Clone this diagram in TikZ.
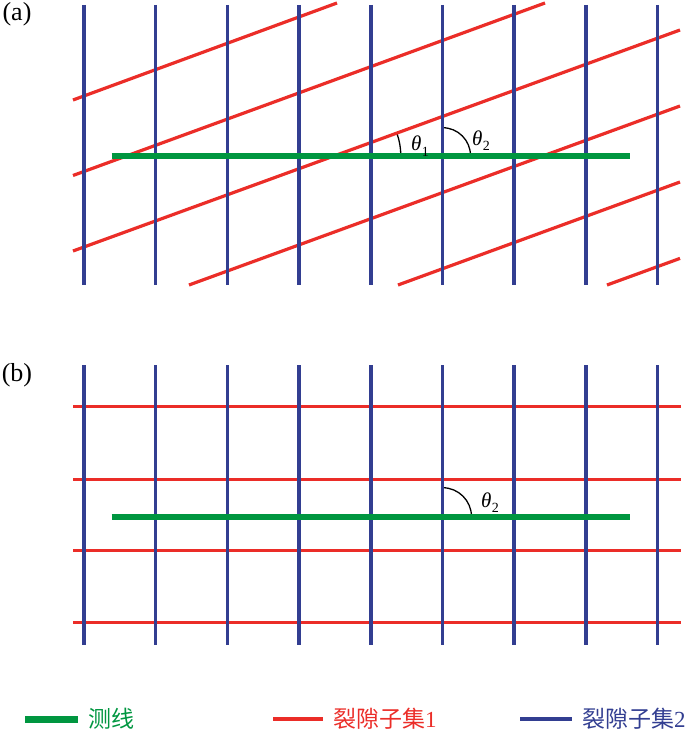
\documentclass[tikz,border=0pt]{standalone}
\usepackage{fontspec}
\setmainfont{Liberation Serif}
\newfontfamily\cjk{Noto Sans CJK SC}
\definecolor{bblue}{RGB}{50,62,145}
\definecolor{rred}{RGB}{235,45,40}
\definecolor{ggreen}{RGB}{0,150,64}
\newcommand\thsub[1]{\textit{θ}\kern0.3pt\raisebox{-0.28em}{\fontsize{14}{14}\selectfont #1}}
\begin{document}
\begin{tikzpicture}[x=1pt,y=-1pt,
  fblue/.style={draw=bblue,line width=3.5pt},
  fred/.style={draw=rred,line width=3.2pt},
  sline/.style={draw=ggreen,line width=6pt},
  anglearc/.style={draw=black,line width=1.3pt},
  panellabel/.style={font=\fontsize{26}{28}\selectfont,inner sep=0pt},
  thlabel/.style={font=\fontsize{21}{22}\selectfont,inner sep=0pt,anchor=base west},
  legtext/.style={font=\fontsize{23}{25}\selectfont,inner sep=0pt,anchor=west}]
\useasboundingbox (0,0) rectangle (700,733);
% ---------- panel (a) ----------
\node[panellabel] (la) at (17,14) {(a)};
\coordinate (c1) at (334.8,155.7);
\coordinate (c2) at (442.5,155.7);
\draw[anglearc] (c1) ++(0:66) arc[start angle=0,end angle=-20,radius=66];
\draw[anglearc] (c2) ++(-90:28) arc[start angle=-90,end angle=0,radius=28];
\draw[fred] (73,100) -- (337,3);
\draw[fred] (73,175.5) -- (545,3);
\draw[fred] (73,251) -- (680,30);
\draw[fred] (189,285) -- (680,106);
\draw[fred] (398,285) -- (680,182);
\draw[fred] (607,285) -- (680,258.4);
\foreach \i in {0,...,8}{
  \draw[fblue] ({84+71.7*\i},5) -- ({84+71.7*\i},285);
}
\coordinate (ga1) at (111.7,155.7);
\coordinate (ga2) at (630,155.7);
\draw[sline] (ga1) -- (ga2);
\node[thlabel] (t1) at (411,150.5) {\thsub{1}};
\node[thlabel] (t2) at (472,145) {\thsub{2}};
% ---------- panel (b) ----------
\node[panellabel] (lb) at (17,375) {(b)};
\coordinate (c3) at (442.5,516.7);
\draw[anglearc] (c3) ++(-90:29) arc[start angle=-90,end angle=0,radius=29];
\foreach \y in {406.7,479.3,550.7,622.7}{
  \draw[fred] (73,\y) -- (681,\y);
}
\foreach \i in {0,...,8}{
  \draw[fblue] ({84+71.7*\i},365) -- ({84+71.7*\i},645);
}
\coordinate (gb1) at (111.7,516.7);
\coordinate (gb2) at (630,516.7);
\draw[sline] (gb1) -- (gb2);
\node[thlabel] (t3) at (481,507) {\thsub{2}};
% ---------- legend ----------
\coordinate (lg1) at (25,719);
\coordinate (lg2) at (78,719);
\draw[draw=ggreen,line width=7pt] (lg1) -- (lg2);
\node[legtext,text=ggreen] (lgt) at (88,719) {\cjk 测线};
\coordinate (lr1) at (273,719);
\coordinate (lr2) at (323,719);
\draw[fred,line width=3.5pt] (lr1) -- (lr2);
\node[legtext,text=rred] (lrt) at (333,719) {{\cjk 裂隙子集}1};
\coordinate (lb1) at (520,719);
\coordinate (lb2) at (572,719);
\draw[fblue,line width=4pt] (lb1) -- (lb2);
\node[legtext,text=bblue] (lbt) at (582,719) {{\cjk 裂隙子集}2};
\end{tikzpicture}
\end{document}
